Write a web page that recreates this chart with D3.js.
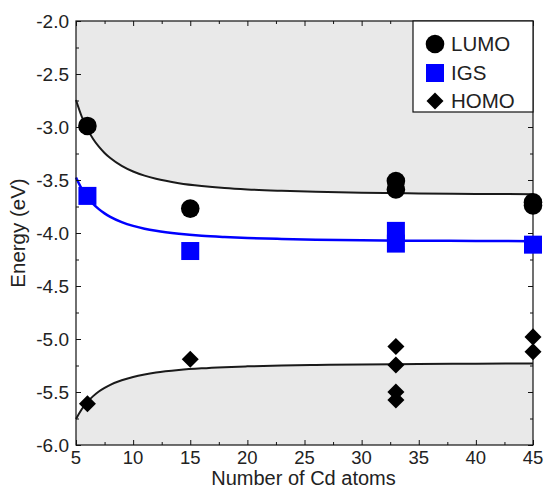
<!DOCTYPE html>
<meta charset="utf-8">
<script src="https://d3js.org/d3.v7.min.js"></script>
<style>
  body { margin: 0; background: white; }
  text { font-family: "Liberation Sans", Arial, sans-serif; fill: #222; }
</style>
<div id="chart"></div>
<script>
// fitted curves
const curveN    = [5, 5.5, 6, 6.5, 7, 7.5, 8, 9, 10, 11, 12, 14, 16, 18, 20, 23, 26, 30, 35, 40, 45];
const lumoCurve = [-2.745, -2.901, -3.020, -3.113, -3.186, -3.245, -3.293, -3.367, -3.420, -3.459, -3.489,
                   -3.530, -3.557, -3.576, -3.589, -3.602, -3.612, -3.620, -3.627, -3.631, -3.634];
const igsCurve  = [-3.477, -3.583, -3.663, -3.725, -3.775, -3.815, -3.848, -3.897, -3.933, -3.959, -3.979,
                   -4.007, -4.026, -4.038, -4.047, -4.056, -4.063, -4.068, -4.073, -4.075, -4.077];
const homoCurve = [-5.755, -5.663, -5.593, -5.539, -5.495, -5.461, -5.432, -5.389, -5.358, -5.335, -5.317,
                   -5.293, -5.277, -5.266, -5.258, -5.250, -5.245, -5.240, -5.236, -5.233, -5.232];

// data points
const lumoN = [6, 15, 33, 33, 45, 45];
const lumoE = [-2.99, -3.77, -3.51, -3.59, -3.71, -3.74];
const igsN  = [6, 15, 33, 33, 45];
const igsE  = [-3.65, -4.17, -3.98, -4.10, -4.11];
const homoN = [6, 15, 33, 33, 33, 33, 45, 45];
const homoE = [-5.61, -5.19, -5.07, -5.245, -5.50, -5.575, -4.98, -5.12];

const legendNames = ["LUMO", "IGS", "HOMO"];

const xTicks = [5, 10, 15, 20, 25, 30, 35, 40, 45];
const yTicks = [-2.0, -2.5, -3.0, -3.5, -4.0, -4.5, -5.0, -5.5, -6.0];

const width = 545, height = 489;
const mLeft = 76, mRight = 533, mTop = 21, mBottom = 445;

const svg = d3.select("#chart").append("svg")
    .attr("width", width)
    .attr("height", height);

const x = d3.scaleLinear().domain([5, 45]).range([mLeft, mRight]);
const y = d3.scaleLinear().domain([-6, -2]).range([mBottom, mTop]);

const pts = (ns, es) => ns.map((n, i) => [n, es[i]]);

// shaded areas: above LUMO and below HOMO
const areaTop = d3.area().x(d => x(d[0])).y0(y(-2)).y1(d => y(d[1])).curve(d3.curveMonotoneX);
const areaBot = d3.area().x(d => x(d[0])).y0(y(-6)).y1(d => y(d[1])).curve(d3.curveMonotoneX);

svg.append("path").attr("d", areaTop(pts(curveN, lumoCurve))).attr("fill", "#e9e9e9");
svg.append("path").attr("d", areaBot(pts(curveN, homoCurve))).attr("fill", "#e9e9e9");

const line = d3.line().x(d => x(d[0])).y(d => y(d[1])).curve(d3.curveMonotoneX);

svg.append("path").attr("d", line(pts(curveN, lumoCurve)))
    .attr("fill", "none").attr("stroke", "#1a1a1a").attr("stroke-width", 2);
svg.append("path").attr("d", line(pts(curveN, igsCurve)))
    .attr("fill", "none").attr("stroke", "#0000ff").attr("stroke-width", 2.5);
svg.append("path").attr("d", line(pts(curveN, homoCurve)))
    .attr("fill", "none").attr("stroke", "#1a1a1a").attr("stroke-width", 2);

// axes, ticks inward on all four sides
const xMinor = d3.range(7.5, 45, 5);
const yMinor = d3.range(-5.75, -2, 0.5);

svg.append("g").attr("transform", `translate(0,${mBottom})`)
    .call(d3.axisTop(x).tickValues(xTicks).tickSize(5).tickFormat(""));
svg.append("g").attr("transform", `translate(0,${mBottom})`)
    .call(d3.axisTop(x).tickValues(xMinor).tickSize(3).tickFormat(""));
svg.append("g").attr("transform", `translate(0,${mTop})`)
    .call(d3.axisBottom(x).tickValues(xTicks).tickSize(5).tickFormat(""));
svg.append("g").attr("transform", `translate(0,${mTop})`)
    .call(d3.axisBottom(x).tickValues(xMinor).tickSize(3).tickFormat(""));
svg.append("g").attr("transform", `translate(${mLeft},0)`)
    .call(d3.axisRight(y).tickValues(yTicks).tickSize(5).tickFormat(""));
svg.append("g").attr("transform", `translate(${mLeft},0)`)
    .call(d3.axisRight(y).tickValues(yMinor).tickSize(3).tickFormat(""));
svg.append("g").attr("transform", `translate(${mRight},0)`)
    .call(d3.axisLeft(y).tickValues(yTicks).tickSize(5).tickFormat(""));
svg.append("g").attr("transform", `translate(${mRight},0)`)
    .call(d3.axisLeft(y).tickValues(yMinor).tickSize(3).tickFormat(""));

svg.selectAll(".domain").remove();
svg.selectAll(".tick line").attr("stroke", "#111").attr("stroke-width", 1);

svg.append("rect")
    .attr("x", mLeft).attr("y", mTop)
    .attr("width", mRight - mLeft).attr("height", mBottom - mTop)
    .attr("fill", "none").attr("stroke", "#111").attr("stroke-width", 1.2);

// tick labels
svg.append("g").selectAll("text")
  .data(xTicks)
  .join("text")
    .attr("x", d => x(d))
    .attr("y", mBottom + 19)
    .attr("text-anchor", "middle")
    .style("font-size", "18.5px")
    .text(d => d);

svg.append("g").selectAll("text")
  .data(yTicks)
  .join("text")
    .attr("x", mLeft - 7)
    .attr("y", d => y(d))
    .attr("dy", "0.35em")
    .attr("text-anchor", "end")
    .style("font-size", "19px")
    .text(d => d3.format(".1f")(d).replace("−", "-"));

// axis titles
svg.append("text")
    .attr("x", (mLeft + mRight) / 2 - 1)
    .attr("y", 485)
    .attr("text-anchor", "middle")
    .style("font-size", "20px")
    .text("Number of Cd atoms");

svg.append("text")
    .attr("transform", `translate(25,${(mTop + mBottom) / 2}) rotate(-90)`)
    .attr("text-anchor", "middle")
    .style("font-size", "20.5px")
    .text("Energy (eV)");

// markers
const diamond = d3.symbol().type(d3.symbolSquare).size(145);

svg.append("g").selectAll("circle")
  .data(pts(lumoN, lumoE))
  .join("circle")
    .attr("cx", d => x(d[0]))
    .attr("cy", d => y(d[1]))
    .attr("r", 9.3)
    .attr("fill", "black");

svg.append("g").selectAll("rect")
  .data(pts(igsN, igsE))
  .join("rect")
    .attr("x", d => x(d[0]) - 9)
    .attr("y", d => y(d[1]) - 9)
    .attr("width", 18)
    .attr("height", 18)
    .attr("fill", "#0000ff");

svg.append("g").selectAll("path")
  .data(pts(homoN, homoE))
  .join("path")
    .attr("d", diamond)
    .attr("transform", d => `translate(${x(d[0])},${y(d[1])}) rotate(45)`)
    .attr("fill", "black");

// legend
const lg = svg.append("g");
lg.append("rect")
    .attr("x", 413).attr("y", mTop)
    .attr("width", mRight - 413).attr("height", 91)
    .attr("fill", "white").attr("stroke", "#111").attr("stroke-width", 1.2);

const legY = [44, 73, 101];
lg.append("circle").attr("cx", 435).attr("cy", legY[0]).attr("r", 9.3).attr("fill", "black");
lg.append("rect").attr("x", 426).attr("y", legY[1] - 9).attr("width", 18).attr("height", 18).attr("fill", "#0000ff");
lg.append("path").attr("d", diamond).attr("transform", `translate(435,${legY[2]}) rotate(45)`).attr("fill", "black");

lg.selectAll("text.leg")
  .data(legendNames)
  .join("text")
    .attr("class", "leg")
    .attr("x", 451)
    .attr("y", (d, i) => legY[i])
    .attr("dy", "0.36em")
    .style("font-size", "20.5px")
    .text(d => d);
</script>
